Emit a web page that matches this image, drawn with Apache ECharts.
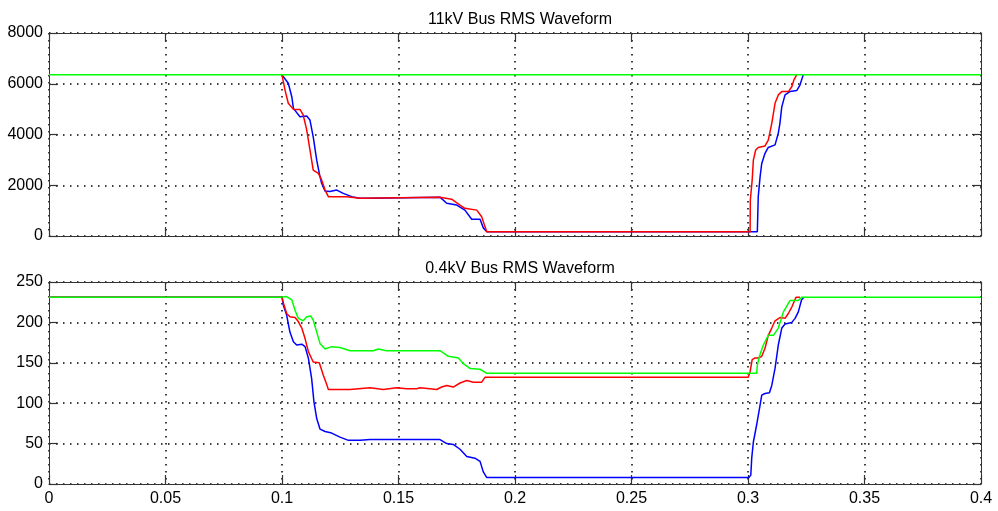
<!DOCTYPE html>
<html>
<head>
<meta charset="utf-8">
<title>Bus RMS Waveform</title>
<script src="https://cdn.jsdelivr.net/npm/echarts@6/dist/echarts.min.js"></script>
<style>
    html, body { margin: 0; padding: 0; background: #fff; }
    #chart { width: 998px; height: 511px; }
</style>
</head>
<body>
<div id="chart"></div>
<script>
// x ticks (seconds)
const xTicks = [0, 0.05, 0.1, 0.15, 0.2, 0.25, 0.3, 0.35, 0.4]
const hvTicks = [0, 2000, 4000, 6000, 8000]
const lvTicks = [0, 50, 100, 150, 200, 250]

// 11kV bus
const hvGreenT = [0, 0.4]
const hvGreenV = [6350, 6350]
const hvBlueT = [0.1, 0.1006, 0.1027, 0.1042, 0.1049, 0.1077, 0.1106, 0.1120, 0.1134, 0.1149, 0.1160, 0.1170, 0.1185, 0.1206, 0.1235, 0.1263, 0.1299, 0.1335, 0.1378, 0.1385, 0.1678, 0.1707, 0.1750, 0.1785, 0.1814, 0.1850, 0.1864, 0.1879, 0.3040, 0.3044, 0.3052, 0.3059, 0.3073, 0.3087, 0.3116, 0.3130, 0.3137, 0.3145, 0.3159, 0.3180, 0.3209, 0.3223, 0.3237]
const hvBlueV = [6350, 6350, 6020, 5490, 5030, 4700, 4730, 4570, 3910, 2990, 2470, 2080, 1770, 1750, 1810, 1680, 1550, 1490, 1490, 1530, 1530, 1290, 1220, 1020, 660, 660, 320, 170, 170, 1550, 2340, 2860, 3260, 3490, 3590, 4050, 4440, 5090, 5560, 5690, 5730, 5950, 6350]
const hvRedT = [0.1, 0.1013, 0.1027, 0.1049, 0.1077, 0.1091, 0.1106, 0.1120, 0.1134, 0.1156, 0.1170, 0.1185, 0.1199, 0.1278, 0.1285, 0.1335, 0.1342, 0.1678, 0.1728, 0.1764, 0.1785, 0.1836, 0.1857, 0.1871, 0.1879, 0.3009, 0.3010, 0.3018, 0.3023, 0.3033, 0.3044, 0.3073, 0.3087, 0.3102, 0.3116, 0.3130, 0.3145, 0.3173, 0.3188, 0.3197, 0.3209]
const hvRedV = [6350, 5750, 5230, 4990, 4990, 4770, 4180, 3390, 2600, 2470, 2210, 1810, 1550, 1550, 1490, 1490, 1530, 1530, 1450, 1220, 1090, 1020, 760, 370, 170, 170, 1420, 2210, 2990, 3390, 3490, 3550, 3780, 4440, 5230, 5560, 5690, 5690, 5880, 6150, 6350]

// 0.4kV bus
const lvBlueT = [0, 0.1, 0.1006, 0.1020, 0.1034, 0.1049, 0.1063, 0.1085, 0.1099, 0.1113, 0.1127, 0.1137, 0.1149, 0.1163, 0.1185, 0.1213, 0.1249, 0.1285, 0.1335, 0.1378, 0.1678, 0.1707, 0.1735, 0.1764, 0.1793, 0.1828, 0.1850, 0.1864, 0.1879, 0.3004, 0.3012, 0.3016, 0.3023, 0.3037, 0.3052, 0.3059, 0.3073, 0.3092, 0.3102, 0.3116, 0.3130, 0.3145, 0.3159, 0.3188, 0.3202, 0.3216, 0.3230, 0.3240]
const lvBlueV = [231, 231, 221, 209, 188, 176, 172, 173, 170, 156, 131, 102, 81, 68, 65, 63, 58, 54, 54, 55, 55, 50, 49, 43, 34, 32, 28, 15, 8, 8, 11, 32, 52, 73, 98, 110, 112, 113, 122, 143, 172, 193, 198, 200, 205, 213, 228, 231]
const lvRedT = [0, 0.1, 0.1006, 0.1020, 0.1034, 0.1056, 0.1070, 0.1085, 0.1099, 0.1113, 0.1134, 0.1160, 0.1177, 0.1192, 0.1199, 0.1292, 0.1299, 0.1378, 0.1435, 0.1492, 0.1535, 0.1578, 0.1592, 0.1635, 0.1664, 0.1685, 0.1707, 0.1735, 0.1764, 0.1793, 0.1821, 0.1857, 0.1871, 0.3001, 0.3009, 0.3018, 0.3030, 0.3044, 0.3059, 0.3073, 0.3087, 0.3102, 0.3116, 0.3137, 0.3159, 0.3173, 0.3188, 0.3206, 0.3223]
const lvRedV = [231, 231, 224, 211, 207, 206, 201, 193, 180, 164, 151, 150, 135, 123, 117, 117, 119, 119, 117, 119, 118, 118, 119, 118, 117, 120, 122, 120, 125, 128, 126, 126, 132, 132, 139, 154, 156, 156, 158, 168, 184, 193, 202, 206, 205, 211, 219, 231, 231]
const lvGreenT = [0, 0.0991, 0.1020, 0.1042, 0.1056, 0.1070, 0.1091, 0.1106, 0.1123, 0.1134, 0.1149, 0.1163, 0.1185, 0.1213, 0.1249, 0.1292, 0.1392, 0.1413, 0.1449, 0.1678, 0.1714, 0.1757, 0.1778, 0.1807, 0.1850, 0.1879, 0.3037, 0.3040, 0.3049, 0.3066, 0.3087, 0.3109, 0.3130, 0.3152, 0.3180, 0.3216, 0.3230, 0.3237, 0.4]
const lvGreenV = [231, 231, 232, 228, 215, 205, 202, 207, 208, 203, 188, 174, 167, 170, 169, 165, 165, 167, 165, 165, 158, 156, 149, 143, 142, 137, 137, 147, 158, 172, 184, 184, 193, 213, 227, 227, 231, 231, 231]

const zip = (t, v) => t.map((x, i) => [x, v[i]])

const font = 'Liberation Sans, Arial, sans-serif'
const boxColor = '#333'
const dotted = { show: true, lineStyle: { color: '#000', width: 1.5, type: [1.5, 5.5] } }

// x axes: bottom one with grid lines, top one only for the box + inward ticks
const makeX = (gridIndex, position, showLabel, showSplit) => ({
    type: 'value',
    gridIndex,
    position,
    min: xTicks[0],
    max: xTicks[xTicks.length - 1],
    interval: xTicks[1] - xTicks[0],
    axisLine: { show: true, onZero: false, lineStyle: { color: boxColor, width: 1 } },
    axisTick: { show: true, inside: true, length: 9, lineStyle: { color: boxColor, width: 1.2 } },
    axisLabel: { show: showLabel, color: '#000', fontFamily: font, fontSize: 16, margin: 7, formatter: v => String(v) },
    splitLine: showSplit ? dotted : { show: false }
})
const makeY = (gridIndex, position, ticks, showLabel, showSplit) => ({
    type: 'value',
    gridIndex,
    position,
    min: ticks[0],
    max: ticks[ticks.length - 1],
    interval: ticks[1] - ticks[0],
    axisLine: { show: true, onZero: false, lineStyle: { color: boxColor, width: 1 } },
    axisTick: { show: true, inside: true, length: 9, lineStyle: { color: boxColor, width: 1.2 } },
    axisLabel: { show: showLabel, color: '#000', fontFamily: font, fontSize: 16, margin: 6, formatter: v => String(v) },
    splitLine: showSplit ? dotted : { show: false }
})

const line = (name, xi, yi, data, color) => ({
    name,
    type: 'line',
    xAxisIndex: xi,
    yAxisIndex: yi,
    data,
    showSymbol: false,
    symbol: 'none',
    lineStyle: { color, width: 1.5 },
    itemStyle: { color }
})

const chartOption = {
    animation: false,
    backgroundColor: '#fff',
    title: [{
        text: '11kV Bus RMS Waveform',
        left: 515,
        top: 7,
        textAlign: 'center',
        textStyle: { color: '#000', fontFamily: font, fontSize: 16, fontWeight: 'normal' }
    }, {
        text: '0.4kV Bus RMS Waveform',
        left: 515,
        top: 256,
        textAlign: 'center',
        textStyle: { color: '#000', fontFamily: font, fontSize: 16, fontWeight: 'normal' }
    }],
    grid: [
        { left: 49, right: 17, top: 33, height: 203 },
        { left: 49, right: 17, top: 282, height: 202 }
    ],
    xAxis: [
        makeX(0, 'bottom', false, true),
        makeX(0, 'top', false, false),
        makeX(1, 'bottom', true, true),
        makeX(1, 'top', false, false)
    ],
    yAxis: [
        makeY(0, 'left', hvTicks, true, true),
        makeY(0, 'right', hvTicks, false, false),
        makeY(1, 'left', lvTicks, true, true),
        makeY(1, 'right', lvTicks, false, false)
    ],
    series: [
        line('11kV blue', 0, 0, zip(hvBlueT, hvBlueV), '#0000ff'),
        line('11kV red', 0, 0, zip(hvRedT, hvRedV), '#ff0000'),
        line('11kV green', 0, 0, zip(hvGreenT, hvGreenV), '#00ff00'),
        line('0.4kV blue', 2, 2, zip(lvBlueT, lvBlueV), '#0000ff'),
        line('0.4kV red', 2, 2, zip(lvRedT, lvRedV), '#ff0000'),
        line('0.4kV green', 2, 2, zip(lvGreenT, lvGreenV), '#00ff00')
    ]
}

const chartInstance = echarts.init(document.getElementById('chart'), null, { renderer: 'canvas' })
chartInstance.setOption(chartOption)
</script>
</body>
</html>
